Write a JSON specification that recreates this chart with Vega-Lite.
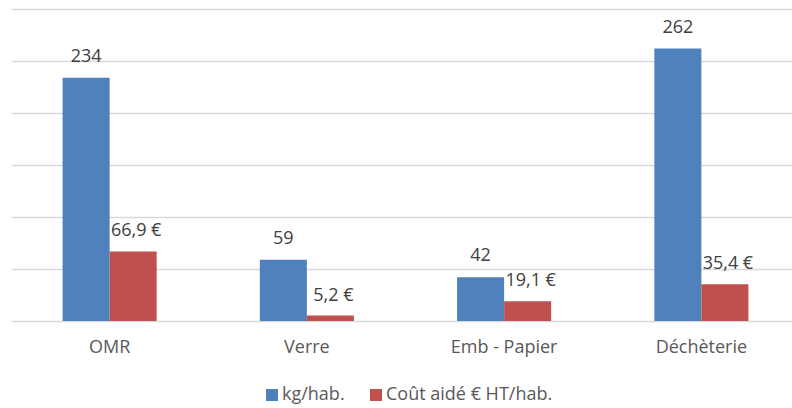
{
  "$schema": "https://vega.github.io/schema/vega-lite/v6.json",
  "width": 789,
  "height": 312,
  "autosize": {"type": "none"},
  "padding": {"left": 11, "top": 9, "right": 0, "bottom": 87},
  "background": "white",
  "config": {
    "view": {"stroke": null},
    "font": "Open Sans",
    "axis": {"gridColor": "#d9d9d9", "gridWidth": 1.3}
  },
  "data": {
    "values": [
      {"cat": "OMR", "series": "kg/hab.", "value": 234, "label": "234"},
      {"cat": "OMR", "series": "Coût aidé € HT/hab.", "value": 66.9, "label": "66,9 €"},
      {"cat": "Verre", "series": "kg/hab.", "value": 59, "label": "59"},
      {"cat": "Verre", "series": "Coût aidé € HT/hab.", "value": 5.2, "label": "5,2 €"},
      {"cat": "Emb - Papier", "series": "kg/hab.", "value": 42, "label": "42"},
      {"cat": "Emb - Papier", "series": "Coût aidé € HT/hab.", "value": 19.1, "label": "19,1 €"},
      {"cat": "Déchèterie", "series": "kg/hab.", "value": 262, "label": "262"},
      {"cat": "Déchèterie", "series": "Coût aidé € HT/hab.", "value": 35.4, "label": "35,4 €"}
    ]
  },
  "encoding": {
    "x": {
      "field": "cat", "type": "nominal", "sort": null,
      "scale": {"paddingInner": 0.523, "paddingOuter": 0.2615},
      "axis": {"title": null, "labelAngle": 0, "ticks": false, "domain": false, "grid": false,
               "labelFontSize": 18, "labelColor": "#595959", "labelPadding": 17, "labelFont": "Open Sans"}
    },
    "xOffset": {"field": "series", "type": "nominal", "sort": ["kg/hab.", "Coût aidé € HT/hab."]},
    "y": {
      "field": "value", "type": "quantitative",
      "scale": {"domain": [0, 300], "nice": false},
      "axis": {"title": null, "labels": false, "ticks": false, "domain": false, "values": [0, 50, 100, 150, 200, 250, 300]}
    }
  },
  "layer": [
    {
      "mark": {"type": "bar"},
      "encoding": {
        "color": {
          "field": "series", "type": "nominal",
          "scale": {"domain": ["kg/hab.", "Coût aidé € HT/hab."], "range": ["#4f81bd", "#c0504d"]},
          "legend": {
            "title": null, "orient": "none", "direction": "horizontal",
            "legendX": 252, "legendY": 377, "padding": 0,
            "symbolType": "square", "symbolSize": 144, "symbolStrokeWidth": 0,
            "labelFontSize": 18, "labelColor": "#595959", "labelFont": "Open Sans",
            "labelOffset": 1, "columnPadding": 22, "labelLimit": 400
          }
        }
      }
    },
    {
      "transform": [{"filter": "datum.series === 'kg/hab.'"}],
      "mark": {"type": "text", "baseline": "alphabetic", "dy": -16, "fontSize": 18, "color": "#404040"},
      "encoding": {"text": {"field": "label"}}
    },
    {
      "transform": [{"filter": "datum.series !== 'kg/hab.'"}],
      "mark": {"type": "text", "baseline": "alphabetic", "dy": -15, "dx": 3, "fontSize": 18, "color": "#404040"},
      "encoding": {"text": {"field": "label"}}
    }
  ]
}
